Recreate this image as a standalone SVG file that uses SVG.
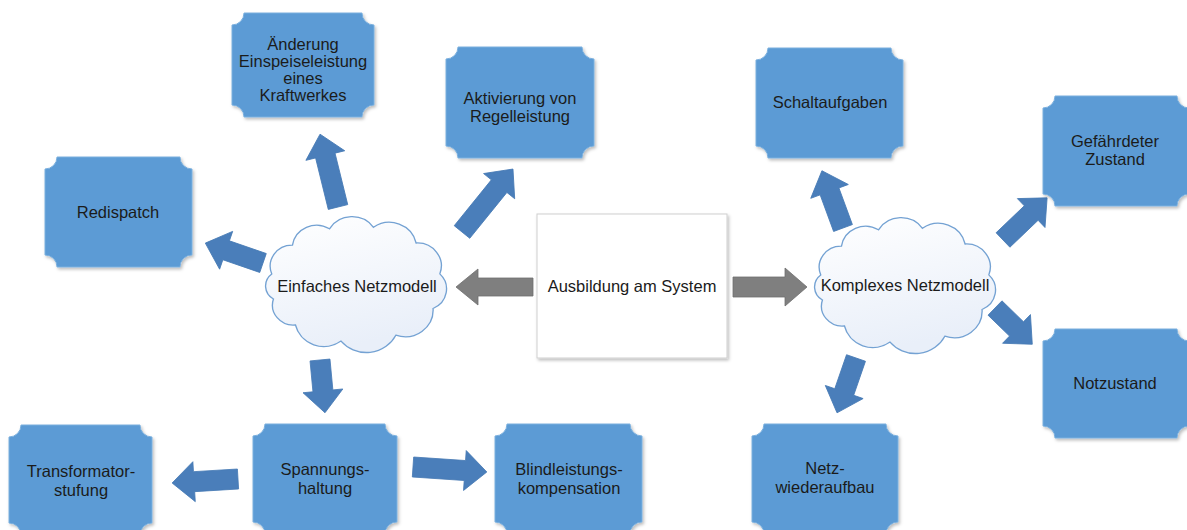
<svg xmlns="http://www.w3.org/2000/svg" width="1187" height="530" viewBox="0 0 1187 530">
<defs>
<filter id="sh" x="-10%" y="-10%" width="125%" height="125%">
<feDropShadow dx="1.5" dy="2" stdDeviation="1.5" flood-color="#000" flood-opacity="0.25"/>
</filter>
<linearGradient id="cg" x1="0" y1="0" x2="0.3" y2="1">
<stop offset="0" stop-color="#ffffff"/>
<stop offset="1" stop-color="#e9eff9"/>
</linearGradient>
<path id="cloud" d="M14.2,61.9 A21,21 0 0 1 34.1,33.2 A23.5,23.5 0 0 1 69.7,16.8 A25.4,25.4 0 0 1 112,15.3 A26.3,26.3 0 0 1 153,31 A23,23 0 0 1 175.8,61.9 A21.1,21.1 0 0 1 169.3,96.5 A26.8,26.8 0 0 1 133.5,123.2 A31.8,31.8 0 0 1 80.8,129.1 A28,28 0 0 1 37,113 A20.1,20.1 0 0 1 15.8,87 A15.1,15.1 0 0 1 14.2,61.9 Z"/>
</defs>
<style>
.box{fill:#5b9bd5;stroke:#7cb0de;stroke-width:1;filter:url(#sh)}
.cl{fill:url(#cg);stroke:#74a2d3;stroke-width:1.3}
.ba{fill:#4a7eba;stroke:#467ab4;stroke-width:0.8}
.ga{fill:#7f7f7f;stroke:#6e6e6e;stroke-width:0.8}
text{font-family:"Liberation Sans",Arial,sans-serif;font-size:16.5px;fill:#1b1b1b;text-anchor:middle}
</style>
<rect width="1187" height="530" fill="#ffffff"/>

<g id="connectors">
<path class="ba" transform="translate(338,207) rotate(-103.85)" d="M0,-10 H53 V-20 L75,0 L53,20 V10 H0 Z"/>
<path class="ba" transform="translate(462,232) rotate(-51)" d="M0,-10 H59 V-20 L81,0 L59,20 V10 H0 Z"/>
<path class="ba" transform="translate(263,263) rotate(-160.97)" d="M0,-10 H39 V-20 L61,0 L39,20 V10 H0 Z"/>
<path class="ba" transform="translate(320,360) rotate(84.6)" d="M0,-10 H31 V-20 L53,0 L31,20 V10 H0 Z"/>
<path class="ba" transform="translate(413,467) rotate(3.87)" d="M0,-10 H52 V-20 L74,0 L52,20 V10 H0 Z"/>
<path class="ba" transform="translate(238,479) rotate(176.53)" d="M0,-10 H44 V-20 L66,0 L44,20 V10 H0 Z"/>
<path class="ba" transform="translate(843,228) rotate(-110.2)" d="M0,-10 H39 V-20 L61,0 L39,20 V10 H0 Z"/>
<path class="ba" transform="translate(1003,240) rotate(-43.7)" d="M0,-10 H39 V-20 L61,0 L39,20 V10 H0 Z"/>
<path class="ba" transform="translate(995,308) rotate(44.2)" d="M0,-10 H30 V-20 L52,0 L30,20 V10 H0 Z"/>
<path class="ba" transform="translate(856,358) rotate(109.1)" d="M0,-10 H36 V-20 L58,0 L36,20 V10 H0 Z"/>
<path class="ga" d="M533,278 H478 V269 L456,287 L478,305 V296 H533 Z"/>
<path class="ga" d="M733,277 H785 V268 L807,287 L785,306 V297 H733 Z"/>
</g>

<g id="n-center">
<rect x="537" y="214" width="190" height="144" fill="#ffffff" stroke="#cfcfcf" stroke-width="1" filter="url(#sh)"/>
<text x="632" y="292">Ausbildung am System</text>
</g>

<g id="n-einfach">
<use href="#cloud" class="cl" transform="translate(257,212) scale(1.04,1)"/>
<text x="357" y="292">Einfaches Netzmodell</text>
</g>

<g id="n-komplex">
<use href="#cloud" class="cl" transform="translate(806,213) scale(1.04,1)"/>
<text x="905" y="291">Komplexes Netzmodell</text>
</g>

<g id="n-aenderung">
<path class="box" d="M244,13 H362 A12,12 0 0 0 374,25 V105 A12,12 0 0 0 362,117 H244 A12,12 0 0 0 232,105 V25 A12,12 0 0 0 244,13 Z"/>
<text x="303" y="50">Änderung</text>
<text x="303" y="67">Einspeiseleistung</text>
<text x="303" y="84">eines</text>
<text x="303" y="101">Kraftwerkes</text>
</g>

<g id="n-aktivierung">
<path class="box" d="M458,47 H582 A12,12 0 0 0 594,59 V146 A12,12 0 0 0 582,158 H458 A12,12 0 0 0 446,146 V59 A12,12 0 0 0 458,47 Z"/>
<text x="520" y="104">Aktivierung von</text>
<text x="520" y="122">Regelleistung</text>
</g>

<g id="n-redispatch">
<path class="box" d="M57,157 H180 A12,12 0 0 0 192,169 V255 A12,12 0 0 0 180,267 H57 A12,12 0 0 0 45,255 V169 A12,12 0 0 0 57,157 Z"/>
<text x="118" y="218">Redispatch</text>
</g>

<g id="n-schalt">
<path class="box" d="M768,48 H891 A12,12 0 0 0 903,60 V146 A12,12 0 0 0 891,158 H768 A12,12 0 0 0 756,146 V60 A12,12 0 0 0 768,48 Z"/>
<text x="830" y="108">Schaltaufgaben</text>
</g>

<g id="n-gefaehrdet">
<path class="box" d="M1055,96 H1177 A12,12 0 0 0 1189,108 V194 A12,12 0 0 0 1177,206 H1055 A12,12 0 0 0 1043,194 V108 A12,12 0 0 0 1055,96 Z"/>
<text x="1115" y="147">Gefährdeter</text>
<text x="1115" y="165">Zustand</text>
</g>

<g id="n-notzustand">
<path class="box" d="M1055,329 H1177 A12,12 0 0 0 1189,341 V426 A12,12 0 0 0 1177,438 H1055 A12,12 0 0 0 1043,426 V341 A12,12 0 0 0 1055,329 Z"/>
<text x="1115" y="389">Notzustand</text>
</g>

<g id="n-netzwiederaufbau">
<path class="box" d="M764,424 H886 A12,12 0 0 0 898,436 V522 A12,12 0 0 0 886,534 H764 A12,12 0 0 0 752,522 V436 A12,12 0 0 0 764,424 Z"/>
<text x="825" y="474">Netz-</text>
<text x="825" y="493">wiederaufbau</text>
</g>

<g id="n-spannung">
<path class="box" d="M265,424 H385 A12,12 0 0 0 397,436 V522 A12,12 0 0 0 385,534 H265 A12,12 0 0 0 253,522 V436 A12,12 0 0 0 265,424 Z"/>
<text x="325" y="475">Spannungs-</text>
<text x="325" y="494">haltung</text>
</g>

<g id="n-blind">
<path class="box" d="M507,424 H630 A12,12 0 0 0 642,436 V522 A12,12 0 0 0 630,534 H507 A12,12 0 0 0 495,522 V436 A12,12 0 0 0 507,424 Z"/>
<text x="569" y="475">Blindleistungs-</text>
<text x="569" y="494">kompensation</text>
</g>

<g id="n-trafo">
<path class="box" d="M21,425 H140 A12,12 0 0 0 152,437 V523 A12,12 0 0 0 140,535 H21 A12,12 0 0 0 9,523 V437 A12,12 0 0 0 21,425 Z"/>
<text x="81" y="477">Transformator-</text>
<text x="81" y="496">stufung</text>
</g>
</svg>
